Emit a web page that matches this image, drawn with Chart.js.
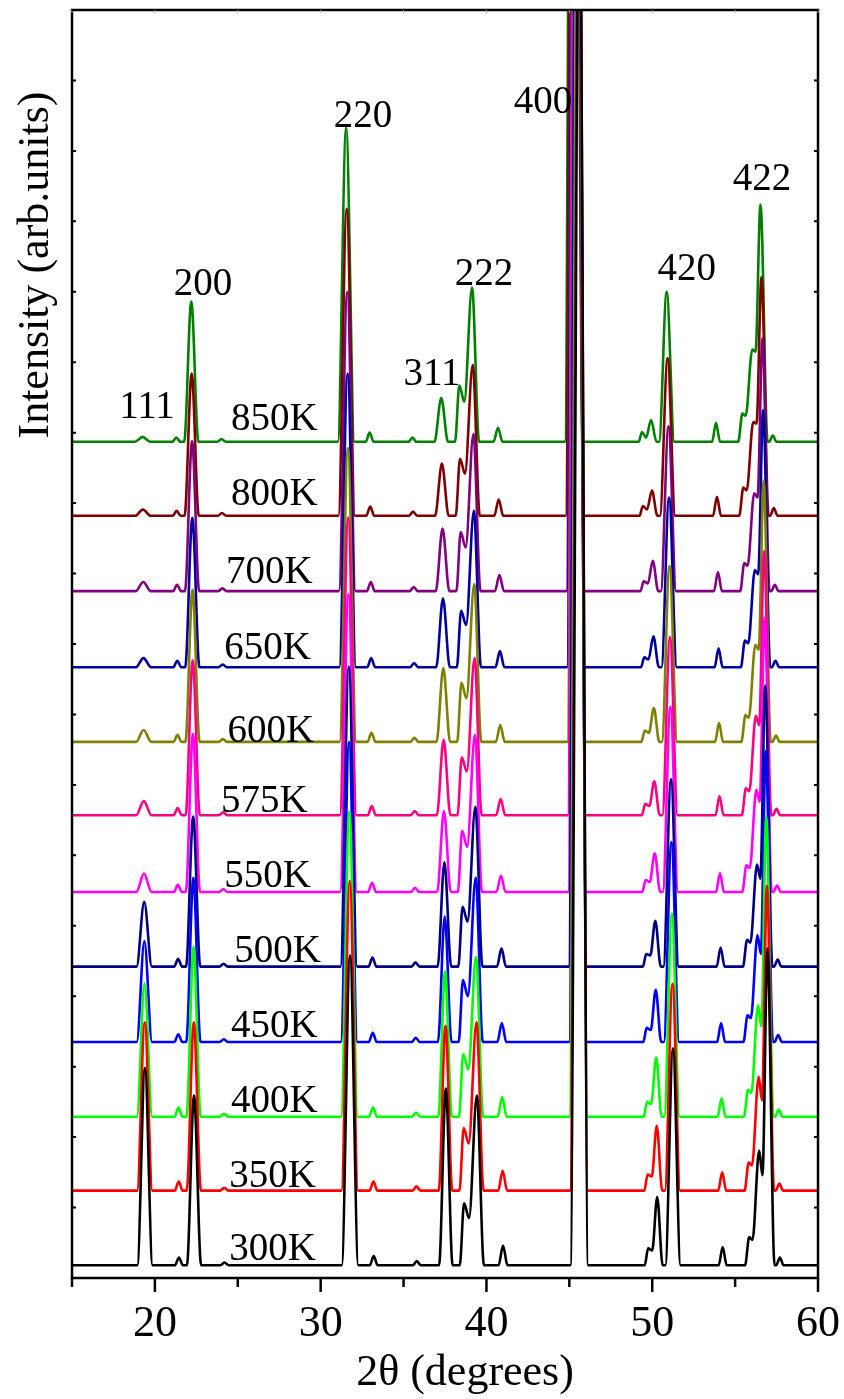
<!DOCTYPE html>
<html lang="en">
<head>
<meta charset="UTF-8">
<title>XRD patterns vs temperature</title>
<script src="https://cdn.jsdelivr.net/npm/chart.js"></script>
<style>
  html, body { margin: 0; padding: 0; background: #fff; }
  #wrap { width: 844px; height: 1399px; }
</style>
</head>
<body>
<div id="wrap"><canvas id="xrd"></canvas></div>
<script>
  // curves listed bottom to top; the first one is drawn on top
  const temps = ['300K', '350K', '400K', '450K', '500K', '550K', '575K', '600K', '650K', '700K', '800K', '850K'];
  const colors = ['#000000', '#ff0000', '#00ff00', '#0000ff', '#000080', '#ff00ff',
                  '#ff0080', '#808000', '#0000a0', '#800080', '#800000', '#008000'];
  // vertical offset of each pattern (same units as the y axis, 0..1800)
  const baselines = [18, 124, 229, 335, 442, 548, 657, 761, 867, 975, 1082, 1187];
  // peak drift at 2theta = 57 deg (thermal expansion), degrees
  const shift422 = [0, -0.03, -0.07, -0.10, -0.13, -0.17, -0.20, -0.23, -0.26, -0.30, -0.36, -0.42];

  // key points of the pattern (2theta at 300K): tops, shoulders and valleys
  const peakAngles = [19.40, 21.45, 22.36, 24.20, 31.77, 33.20, 35.80, 37.55, 38.65, 38.95, 39.42, 41.00,
                      45.60, 49.75, 50.00, 50.30, 51.25, 54.25, 55.85, 56.05, 56.45, 56.65, 56.95, 57.70];
  const halfWidths = [0.46, 0.24, 0.43, 0.25, 0.50, 0.24, 0.24, 0.41, 0.26, 0.20, 0.43, 0.27,
                      0.54, 0.20, 0.15, 0.33, 0.46, 0.24, 0.25, 0.15, 0.30, 0.15, 0.43, 0.22];

  // intensity above the pattern's own baseline at each key point
  const h300 = [280, 11, 241, 4, 440, 13, 6, 251, 88, 67, 241, 28, 2000, 24, 21, 97, 308, 26, 40, 36, 163, 128, 450, 11];
  const h350 = [239, 13, 239, 4, 440, 13, 6, 234, 89, 67, 239, 28, 2000, 23, 20, 92, 294, 26, 40, 36, 162, 128, 433, 10];
  const h400 = [189, 13, 241, 4, 433, 13, 6, 206, 89, 67, 227, 28, 2000, 21, 18, 84, 288, 26, 38, 34, 158, 128, 426, 10];
  const h450 = [143, 11, 233, 4, 426, 13, 6, 178, 88, 65, 233, 27, 2000, 20, 17, 74, 284, 27, 38, 34, 152, 125, 413, 10];
  const h500 = [92, 11, 213, 4, 426, 13, 6, 148, 85, 64, 227, 26, 2000, 18, 16, 65, 266, 27, 38, 34, 145, 125, 399, 10];
  const h550 = [26, 10, 224, 4, 423, 13, 6, 115, 87, 64, 223, 23, 2000, 17, 14, 55, 263, 27, 38, 34, 145, 128, 389, 9];
  const h575 = [20, 10, 220, 4, 423, 13, 6, 107, 82, 62, 223, 23, 2000, 16, 13, 48, 253, 27, 38, 34, 141, 128, 375, 9];
  const h600 = [17, 10, 216, 4, 417, 13, 6, 105, 84, 62, 224, 24, 2000, 16, 13, 48, 250, 27, 38, 34, 138, 131, 371, 9];
  const h650 = [13, 9, 212, 4, 417, 13, 6, 98, 80, 60, 222, 23, 2000, 14, 11, 44, 241, 27, 38, 34, 138, 132, 365, 9];
  const h700 = [13, 9, 213, 4, 425, 13, 6, 89, 84, 62, 223, 23, 2000, 14, 11, 43, 234, 27, 40, 36, 139, 133, 359, 9];
  const h800 = [9, 7, 202, 4, 436, 13, 6, 74, 81, 60, 214, 23, 2000, 14, 9, 36, 224, 27, 40, 36, 133, 131, 339, 11];
  const h850 = [7, 6, 199, 4, 446, 13, 6, 62, 80, 57, 219, 20, 2000, 14, 6, 31, 213, 27, 40, 37, 131, 128, 337, 9];
  const heights = [h300, h350, h400, h450, h500, h550, h575, h600, h650, h700, h800, h850];

  // text annotations, in data coordinates
  const tempLabelAngle = [27.1, 27.1, 27.2, 27.2, 27.4, 26.8, 26.6, 27.0, 26.8, 26.9, 27.2, 27.2];
  const tempLabelY = [26, 129, 236, 342, 449, 555, 662, 761, 878, 987, 1098, 1204];
  const hkl = ['111', '200', '220', '311', '222', '400', '420', '422'];
  const hklAngle = [19.52, 22.9, 32.55, 36.71, 39.85, 43.41, 52.09, 56.62];
  const hklY = [1221, 1396, 1634, 1268, 1410, 1654, 1417, 1545];
  const xTickLabels = [20, 30, 40, 50, 60];

  const serif = '"Liberation Serif", "Times New Roman", serif';

  function curvePoints(i) {
    const base = baselines[i], h = heights[i], s = shift422[i] / 57;
    const n = peakAngles.length;
    const pts = [{ x: 15, y: base }];
    for (let k = 0; k < n; k++) {
      const x = peakAngles[k] * (1 + s);
      const w = halfWidths[k];
      if (k === 0 || peakAngles[k - 1] + halfWidths[k - 1] <= peakAngles[k] - w) pts.push({ x: x - w, y: base });
      pts.push({ x: x, y: base + h[k] });
      if (k === n - 1 || peakAngles[k] + w <= peakAngles[k + 1] - halfWidths[k + 1]) pts.push({ x: x + w, y: base });
    }
    pts.push({ x: 60, y: base });
    return pts;
  }

  const datasets = temps.map((t, i) => ({
    label: t,
    data: curvePoints(i),
    borderColor: colors[i],
    borderWidth: 2.6,
    pointRadius: 0,
    fill: false,
    cubicInterpolationMode: 'monotone'
  }));

  // frame, tick marks, tick labels, axis titles and the annotations
  const decorations = {
    id: 'decorations',
    afterDraw(chart) {
      const { ctx, chartArea: a, scales: { x, y } } = chart;
      ctx.save();
      ctx.strokeStyle = '#000';
      ctx.lineWidth = 2.5;
      ctx.strokeRect(a.left, a.top, a.right - a.left, a.bottom - a.top);

      x.ticks.forEach(t => {
        const px = x.getPixelForValue(t.value);
        const major = t.value % 10 === 0;
        ctx.strokeStyle = '#000';
        ctx.lineWidth = 2.5;
        ctx.beginPath();
        ctx.moveTo(px, a.bottom);
        ctx.lineTo(px, a.bottom + (major ? 14 : 9));
        ctx.stroke();
        ctx.lineWidth = 1;
        ctx.strokeStyle = '#aaa';
        ctx.beginPath();
        ctx.moveTo(px, a.top);
        ctx.lineTo(px, a.top + 3);
        ctx.stroke();
      });
      ctx.strokeStyle = '#000';
      ctx.lineWidth = 2;
      y.ticks.forEach(t => {
        const py = y.getPixelForValue(t.value);
        ctx.beginPath();
        ctx.moveTo(a.left, py); ctx.lineTo(a.left + 4, py);
        ctx.moveTo(a.right, py); ctx.lineTo(a.right - 4, py);
        ctx.stroke();
      });

      ctx.fillStyle = '#000';
      ctx.textAlign = 'center';
      ctx.textBaseline = 'alphabetic';
      ctx.font = '44px ' + serif;
      xTickLabels.forEach(v => ctx.fillText(String(v), x.getPixelForValue(v), a.bottom + 58));
      ctx.fillText('2θ (degrees)', (a.left + a.right) / 2 + 20, a.bottom + 107);

      ctx.font = '39px ' + serif;
      temps.forEach((t, i) => {
        ctx.fillText(t, x.getPixelForValue(tempLabelAngle[i]), y.getPixelForValue(tempLabelY[i]));
      });
      hkl.forEach((t, i) => {
        ctx.fillText(t, x.getPixelForValue(hklAngle[i]), y.getPixelForValue(hklY[i]));
      });

      ctx.font = '44px ' + serif;
      ctx.translate(36, 265);
      ctx.rotate(-Math.PI / 2);
      ctx.textBaseline = 'middle';
      ctx.fillText('Intensity (arb.units)', 0, 0);
      ctx.restore();
    }
  };

  new Chart(document.getElementById('xrd'), {
    type: 'line',
    data: { datasets },
    options: {
      responsive: true,
      maintainAspectRatio: false,
      animation: false,
      layout: { padding: { left: 72, right: 26, top: 10, bottom: 121 } },
      plugins: { legend: { display: false }, tooltip: { enabled: false } },
      scales: {
        x: { type: 'linear', display: false, min: 15, max: 60, ticks: { stepSize: 5 } },
        y: { display: false, min: 0, max: 1800, ticks: { stepSize: 100 } }
      }
    },
    plugins: [decorations]
  });
</script>
</body>
</html>
